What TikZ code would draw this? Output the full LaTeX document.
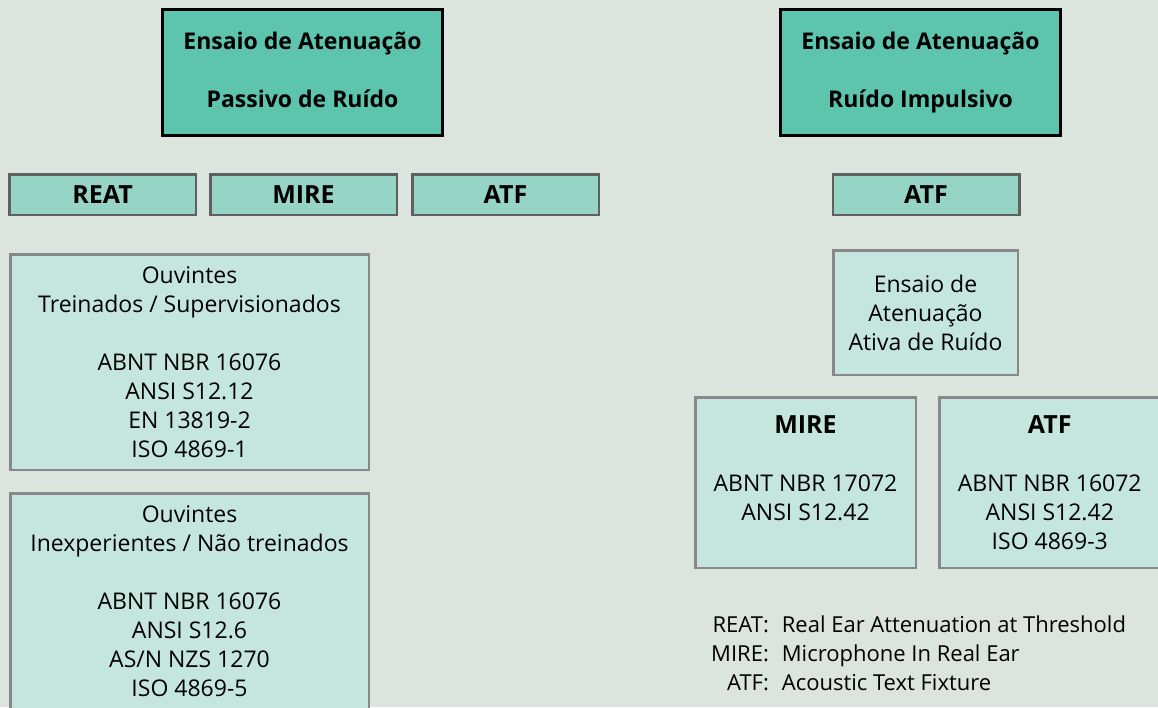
\documentclass[tikz,border=0pt]{standalone}
\usepackage{fontspec}
\setmainfont{Open Sans}
\usetikzlibrary{positioning}
\definecolor{bgcol}{RGB}{220,228,222}
\definecolor{titlefill}{RGB}{93,196,174}
\definecolor{tagfill}{RGB}{150,213,198}
\definecolor{infofill}{RGB}{197,230,222}
\definecolor{tagline}{RGB}{96,96,96}
\definecolor{infoline}{RGB}{136,136,136}
\newcommand{\bodyfont}{\fontsize{23}{29}\selectfont}
\newcommand{\legendfont}{\fontsize{22}{29}\selectfont}
\newcommand{\titlefont}{\fontsize{23}{30}\selectfont\bfseries}
\newcommand{\tagfont}{\fontsize{25}{29}\selectfont\bfseries}
\tikzset{
  titlebox/.style={draw=black, fill=titlefill, line width=3pt, minimum width=280pt,
                   minimum height=126pt, align=center, font=\titlefont},
  tagbox/.style  ={draw=tagline, fill=tagfill, line width=2.5pt, minimum width=186.5pt,
                   minimum height=40.5pt, font=\tagfont},
  infobox/.style ={draw=infoline, fill=infofill, line width=2.5pt, align=center,
                   font=\bodyfont}
}

\begin{document}
\begin{tikzpicture}[x=1pt, y=-1pt]
  \fill[bgcol] (0,0) rectangle (1158,707);
  \useasboundingbox (0,0) rectangle (1158,707);

  % title boxes
  \node[titlebox] (passive) at (302.5,72.5) {Ensaio de Atenuação\\[28pt]Passivo de Ruído\\[-24pt]};
  \node[titlebox] (impulse) at (920.5,72.5) {Ensaio de Atenuação\\[28pt]Ruído Impulsivo\\[-24pt]};

  % method tags
  \node[tagbox] (reat) at (102.5,194.5) {REAT};
  \node[tagbox, right=12pt of reat] (mire) {MIRE};
  \node[tagbox, right=13pt of mire] (atf)  {ATF};
  \node[tagbox] (atfimp) at (926,194.5) {ATF};

  % REAT listeners
  \node[infobox, minimum width=358.5pt, minimum height=215.5pt] (trained) at (189.5,362)
    {Ouvintes\\Treinados / Supervisionados\\[29pt]ABNT NBR 16076\\ANSI S12.12\\EN 13819-2\\ISO 4869-1};
  \node[infobox, minimum width=358.5pt, minimum height=215.5pt, below=21pt of trained] (untrained)
    {Ouvintes\\Inexperientes / Não treinados\\[29pt]ABNT NBR 16076\\ANSI S12.6\\AS/N NZS 1270\\ISO 4869-5};

  % active attenuation
  \node[infobox, minimum width=184.5pt, minimum height=124.5pt] (active) at (925.5,312.5)
    {Ensaio de\\Atenuação\\Ativa de Ruído};
  \node[infobox, minimum width=220.5pt, minimum height=170.5pt] (mireact) at (805.5,482.5)
    {{\tagfont MIRE}\\[29pt]ABNT NBR 17072\\ANSI S12.42\\ \mbox{}};
  \node[infobox, minimum width=221pt, minimum height=170.5pt, right=21pt of mireact] (atfact)
    {{\tagfont ATF}\\[29pt]ABNT NBR 16072\\ANSI S12.42\\ISO 4869-3};

  % legend
  \node[font=\legendfont, anchor=west, inner sep=0pt] (legend) at (711,656)
    {\begin{tabular}{@{}r@{\hspace{13pt}}l@{}}
       REAT: & Real Ear Attenuation at Threshold\\
       MIRE: & Microphone In Real Ear\\
       ATF:  & Acoustic Text Fixture
     \end{tabular}};
\end{tikzpicture}
\end{document}
